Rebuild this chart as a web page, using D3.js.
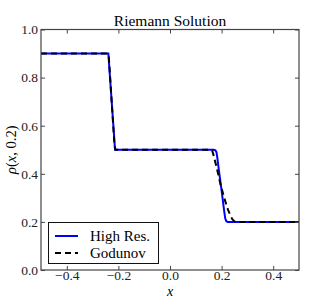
<!DOCTYPE html>
<html><head><meta charset="utf-8">
<script src="https://cdn.jsdelivr.net/npm/d3@7"></script>
<style>body{margin:0;background:#fff}svg{display:block}</style>
</head><body>
<script>
const title = "Riemann Solution";
const xTicks = [-0.4, -0.2, 0.0, 0.2, 0.4];
const yTicks = [0.0, 0.2, 0.4, 0.6, 0.8, 1.0];
const seriesNames = ["High Res.", "Godunov"];
const highResX = [-0.5, -0.239, -0.226, -0.213, 0.170, 0.176, 0.180, 0.183, 0.190, 0.200, 0.210, 0.214, 0.218, 0.223, 0.5];
const highResY = [0.9, 0.9, 0.70, 0.5, 0.5, 0.498, 0.49, 0.47, 0.41, 0.33, 0.245, 0.215, 0.203, 0.2, 0.2];
const godunovX = [-0.5, -0.241, -0.237, -0.215, -0.211, 0.160, 0.164, 0.168, 0.180, 0.195, 0.210, 0.225, 0.235, 0.242, 0.250, 0.260, 0.5];
const godunovY = [0.9, 0.9, 0.885, 0.515, 0.5, 0.5, 0.495, 0.48, 0.43, 0.36, 0.30, 0.25, 0.225, 0.21, 0.202, 0.2, 0.2];

const FONT = '"Liberation Serif", "Times New Roman", serif';
const W = 332, H = 300;
const m = {l: 41, r: 299, t: 29.5, b: 270};
const svg = d3.select("body").append("svg").attr("width", W).attr("height", H)
  .attr("font-family", FONT).style("font-family", FONT);
const x = d3.scaleLinear().domain([-0.5, 0.5]).range([m.l, m.r]);
const y = d3.scaleLinear().domain([0, 1]).range([m.b, m.t]);

const line = d3.line().x(d => x(d[0])).y(d => y(d[1]));
const hr = highResX.map((v, i) => [v, highResY[i]]);
const gd = godunovX.map((v, i) => [v, godunovY[i]]);

const g = svg.append("g");
g.append("path").datum(hr).attr("d", line).attr("fill", "none").attr("stroke", "#0000ff").attr("stroke-width", 2);
g.append("path").datum(gd).attr("d", line).attr("fill", "none").attr("stroke", "#000").attr("stroke-width", 2).attr("stroke-dasharray", "6,4");

// axes with inward ticks
const fmt = d => (d < 0 ? "\u2212" : "") + Math.abs(d).toFixed(1);
const axB = svg.append("g").attr("transform", `translate(0,${m.b})`).call(d3.axisBottom(x).tickValues(xTicks).tickSize(-4).tickPadding(0).tickFormat(fmt));
const axT = svg.append("g").attr("transform", `translate(0,${m.t})`).call(d3.axisTop(x).tickValues(xTicks).tickSize(-4).tickFormat(""));
const axL = svg.append("g").attr("transform", `translate(${m.l},0)`).call(d3.axisLeft(y).tickValues(yTicks).tickSize(-4).tickPadding(3).tickFormat(d => d.toFixed(1)));
const axR = svg.append("g").attr("transform", `translate(${m.r},0)`).call(d3.axisRight(y).tickValues(yTicks).tickSize(-4).tickFormat(""));
[axB, axT, axL, axR].forEach(a => {
  a.attr("font-family", FONT).attr("font-size", 13);
  a.select(".domain").remove();
  a.selectAll(".tick line").attr("stroke", "#444");
  a.selectAll("text").style("font-family", FONT).style("font-size", "13.5px").attr("fill", "#222");
});
svg.append("rect").attr("x", m.l).attr("y", m.t).attr("width", m.r - m.l).attr("height", m.b - m.t)
  .attr("fill", "none").attr("stroke", "#444").attr("stroke-width", 1.2);

// title
svg.append("text").attr("x", (m.l + m.r) / 2).attr("y", 26).attr("text-anchor", "middle")
  .style("font-family", FONT).style("font-size", "15.5px").text(title);

// x label
svg.append("text").attr("x", (m.l + m.r) / 2).attr("y", 295.5).attr("text-anchor", "middle")
  .style("font-family", FONT).style("font-size", "14px").style("font-style", "italic").text("x");

// y label
const yl = svg.append("text").attr("transform", `translate(16,${(m.t + m.b) / 2}) rotate(-90)`).attr("text-anchor", "middle")
  .style("font-family", FONT).style("font-size", "14.5px");
yl.append("tspan").style("font-style", "italic").text("\u03c1");
yl.append("tspan").text("(");
yl.append("tspan").style("font-style", "italic").text("x");
yl.append("tspan").text(", 0.2)");

// legend
const lg = svg.append("g");
lg.append("rect").attr("x", 48.5).attr("y", 222.5).attr("width", 110).attr("height", 41)
  .attr("fill", "#fff").attr("stroke", "#111").attr("stroke-width", 1);
const rows = [236, 253];
const styles = [{c: "#0000ff", d: null}, {c: "#000", d: "6,4"}];
seriesNames.forEach((n, i) => {
  const ln = lg.append("line").attr("x1", 55).attr("x2", 78).attr("y1", rows[i]).attr("y2", rows[i])
    .attr("stroke", styles[i].c).attr("stroke-width", 2);
  if (styles[i].d) ln.attr("stroke-dasharray", styles[i].d);
  lg.append("text").attr("x", 90).attr("y", rows[i] + 5).style("font-family", FONT).style("font-size", "15px").text(n);
});
</script>
</body></html>
